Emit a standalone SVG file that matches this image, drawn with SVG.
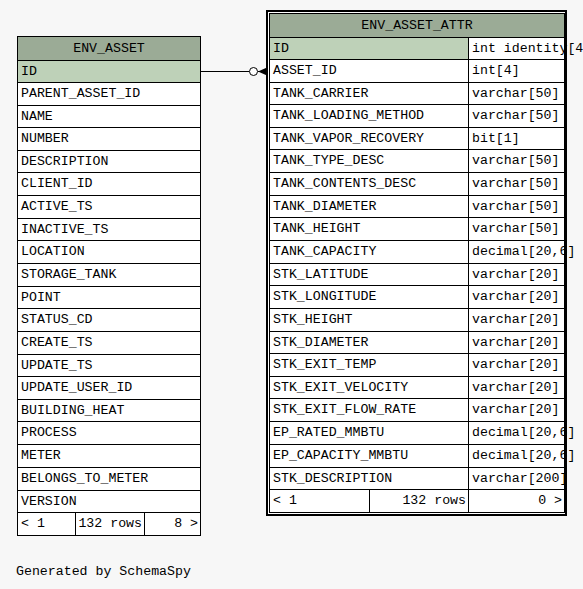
<svg xmlns="http://www.w3.org/2000/svg" width="583" height="589" viewBox="0 0 583 589">
<style>
text{font-family:"Liberation Mono","DejaVu Sans Mono",monospace;font-size:13.25px;fill:#000}
.c{text-anchor:middle}
.r{text-anchor:end}
.hd{fill:#9bab96}
.pk{fill:#bed1b8}
.bg{fill:#ffffff}
.ln{fill:none;stroke:#000;stroke-width:1}
.thick{fill:none;stroke:#000;stroke-width:2}
</style>
<rect width="583" height="589" fill="#f7f7f7"/>
<g id="ENV_ASSET">
<rect class="bg" x="17.5" y="36.5" width="183" height="499"/>
<rect class="hd" x="17.5" y="36.5" width="183" height="24"/>
<rect class="pk" x="17.5" y="60.5" width="183" height="22"/>
<path class="ln" d="M17.5 60.5H200.5M17.5 82.5H200.5M17.5 105.5H200.5M17.5 127.5H200.5M17.5 150.5H200.5M17.5 172.5H200.5M17.5 195.5H200.5M17.5 218.5H200.5M17.5 240.5H200.5M17.5 263.5H200.5M17.5 286.5H200.5M17.5 308.5H200.5M17.5 331.5H200.5M17.5 354.5H200.5M17.5 376.5H200.5M17.5 399.5H200.5M17.5 421.5H200.5M17.5 444.5H200.5M17.5 467.5H200.5M17.5 490.5H200.5M17.5 512.5H200.5M75.5 512.5V535.5M144.5 512.5V535.5"/>
<rect class="ln" x="17.5" y="36.5" width="183" height="499"/>
<text class="c" x="109" y="52">ENV_ASSET</text>
<text x="21" y="75">ID</text>
<text x="21" y="97">PARENT_ASSET_ID</text>
<text x="21" y="120">NAME</text>
<text x="21" y="142">NUMBER</text>
<text x="21" y="165">DESCRIPTION</text>
<text x="21" y="187">CLIENT_ID</text>
<text x="21" y="210">ACTIVE_TS</text>
<text x="21" y="233">INACTIVE_TS</text>
<text x="21" y="255">LOCATION</text>
<text x="21" y="278">STORAGE_TANK</text>
<text x="21" y="301">POINT</text>
<text x="21" y="323">STATUS_CD</text>
<text x="21" y="346">CREATE_TS</text>
<text x="21" y="369">UPDATE_TS</text>
<text x="21" y="391">UPDATE_USER_ID</text>
<text x="21" y="414">BUILDING_HEAT</text>
<text x="21" y="436">PROCESS</text>
<text x="21" y="459">METER</text>
<text x="21" y="482">BELONGS_TO_METER</text>
<text x="21" y="505">VERSION</text>
<text x="21" y="527">&lt; 1</text>
<text class="r" x="142" y="527">132 rows</text>
<text class="r" x="198" y="527">8 &gt;</text>
</g>
<g id="ENV_ASSET_ATTR">
<rect class="bg" x="267" y="11" width="299" height="504"/>
<rect class="hd" x="269.5" y="13.5" width="295" height="24"/>
<rect class="pk" x="269.5" y="37.5" width="199" height="22"/>
<text class="c" x="417" y="29">ENV_ASSET_ATTR</text>
<text x="273" y="52">ID</text><text x="472" y="52">int identity[4</text>
<text x="273" y="74">ASSET_ID</text><text x="472" y="74">int[4]</text>
<text x="273" y="97">TANK_CARRIER</text><text x="472" y="97">varchar[50]</text>
<text x="273" y="119">TANK_LOADING_METHOD</text><text x="472" y="119">varchar[50]</text>
<text x="273" y="142">TANK_VAPOR_RECOVERY</text><text x="472" y="142">bit[1]</text>
<text x="273" y="164">TANK_TYPE_DESC</text><text x="472" y="164">varchar[50]</text>
<text x="273" y="187">TANK_CONTENTS_DESC</text><text x="472" y="187">varchar[50]</text>
<text x="273" y="210">TANK_DIAMETER</text><text x="472" y="210">varchar[50]</text>
<text x="273" y="232">TANK_HEIGHT</text><text x="472" y="232">varchar[50]</text>
<text x="273" y="255">TANK_CAPACITY</text><text x="472" y="255">decimal[20,6]</text>
<text x="273" y="278">STK_LATITUDE</text><text x="472" y="278">varchar[20]</text>
<text x="273" y="300">STK_LONGITUDE</text><text x="472" y="300">varchar[20]</text>
<text x="273" y="323">STK_HEIGHT</text><text x="472" y="323">varchar[20]</text>
<text x="273" y="346">STK_DIAMETER</text><text x="472" y="346">varchar[20]</text>
<text x="273" y="368">STK_EXIT_TEMP</text><text x="472" y="368">varchar[20]</text>
<text x="273" y="391">STK_EXIT_VELOCITY</text><text x="472" y="391">varchar[20]</text>
<text x="273" y="413">STK_EXIT_FLOW_RATE</text><text x="472" y="413">varchar[20]</text>
<text x="273" y="436">EP_RATED_MMBTU</text><text x="472" y="436">decimal[20,6]</text>
<text x="273" y="459">EP_CAPACITY_MMBTU</text><text x="472" y="459">decimal[20,6]</text>
<text x="273" y="482">STK_DESCRIPTION</text><text x="472" y="482">varchar[200]</text>
<text x="273" y="504">&lt; 1</text>
<text class="r" x="466" y="504">132 rows</text>
<text class="r" x="562" y="504">0 &gt;</text>
<path class="ln" d="M269.5 37.5H564.5M269.5 59.5H564.5M269.5 82.5H564.5M269.5 104.5H564.5M269.5 127.5H564.5M269.5 149.5H564.5M269.5 172.5H564.5M269.5 195.5H564.5M269.5 217.5H564.5M269.5 240.5H564.5M269.5 263.5H564.5M269.5 285.5H564.5M269.5 308.5H564.5M269.5 331.5H564.5M269.5 353.5H564.5M269.5 376.5H564.5M269.5 398.5H564.5M269.5 421.5H564.5M269.5 444.5H564.5M269.5 467.5H564.5M269.5 489.5H564.5M468.5 37.5V512.5M369.5 489.5V512.5"/>
<rect class="ln" x="269.5" y="13.5" width="295" height="499"/>
<rect class="thick" x="267" y="11" width="299" height="504"/>
</g>
<g id="connectors">
<path class="ln" d="M200.5 71.5H249.5M258 71.5H267"/>
<circle cx="253.5" cy="71.5" r="4" fill="#fff" stroke="#000" stroke-width="1"/>
<polygon points="258,71.5 267,67.5 267,75.5" fill="#000"/>
</g>
<text x="16" y="575">Generated by SchemaSpy</text>
</svg>
